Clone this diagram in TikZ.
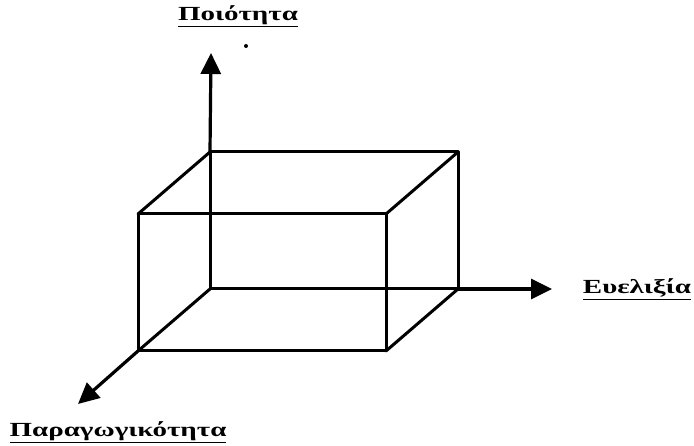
\documentclass[tikz,border=0pt]{standalone}
\usepackage{fontspec}
\setmainfont{Liberation Serif}
\usepackage{tikz}
\usetikzlibrary{arrows.meta}
\tikzset{
  edge/.style={draw=black,line width=3pt,line cap=round,line join=round},
  axis/.style={draw=black,line width=3.2pt,-{Triangle[length=21pt,width=20pt]}},
  axislabel/.style={font=\bfseries\fontsize{20}{24}\selectfont,inner sep=1pt,
    transform shape,xscale=1.45}
}
\begin{document}
\begin{tikzpicture}[x=1pt,y=1pt]
        \useasboundingbox (0,0) rectangle (694,446);
        % box corners
        \coordinate (o)   at (210,157);
        \coordinate (btl) at (210,294);
        \coordinate (btr) at (458,294);
        \coordinate (bbr) at (458,157);
        \coordinate (fbl) at (138,95);
        \coordinate (fbr) at (386,95);
        \coordinate (ftl) at (138,232);
        \coordinate (ftr) at (386,232);
        % axis ends
        \coordinate (ytip) at (211,393);
        \coordinate (xtip) at (552,157);
        \coordinate (ztip) at (78,42);
        \draw[edge] (o) -- (btl) -- (btr) -- (bbr) -- cycle;
        \draw[edge] (fbl) -- (ftl) -- (ftr) -- (fbr) -- cycle;
        \draw[edge] (ftl) -- (btl);
        \draw[edge] (ftr) -- (btr);
        \draw[edge] (fbr) -- (bbr);
        \draw[axis] (btl) -- (ytip);
        \draw[axis] (bbr) -- (xtip);
        \draw[axis] (fbl) -- (ztip);
        \draw[edge] (o) -- (fbl);
        \fill (246,400) circle (2pt);
        \node[axislabel] (quality) at (238,430) {\underline{Ποιότητα}};
        \node[axislabel] (flex) at (637,157) {\underline{Ευελιξία}};
        \node[axislabel] (prod) at (118,14) {\underline{Παραγωγικότητα}};
      \end{tikzpicture}
\end{document}
